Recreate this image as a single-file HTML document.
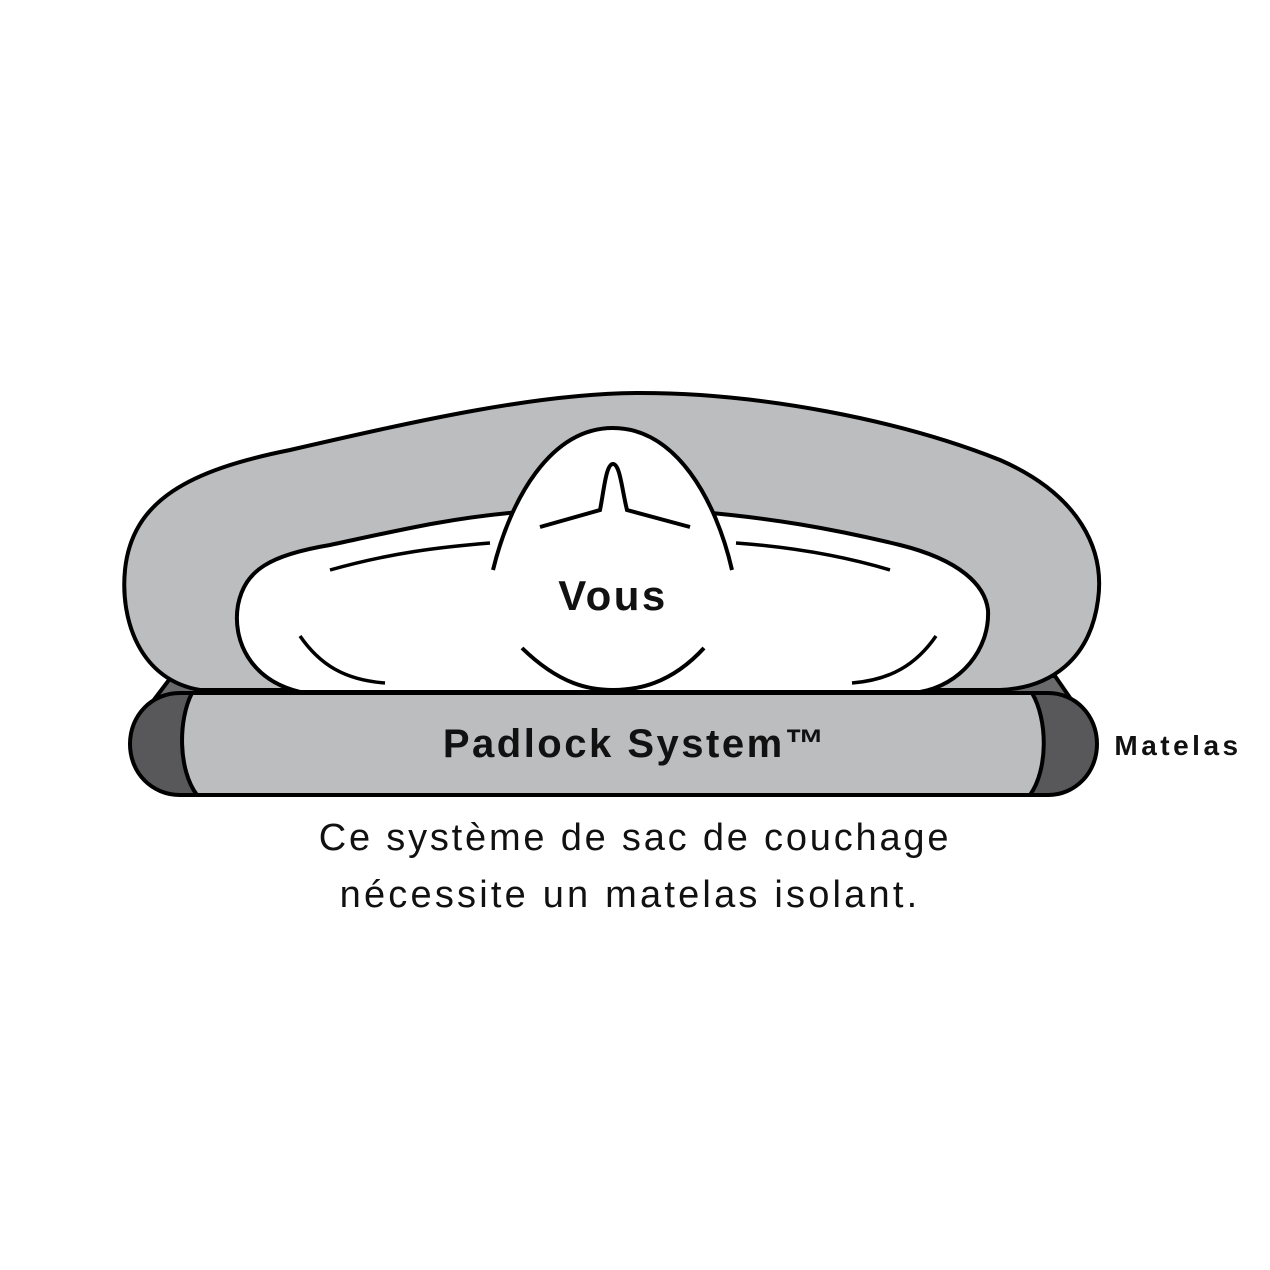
<!DOCTYPE html>
<html><head><style>
html,body{margin:0;padding:0;background:#fff;width:1270px;height:1270px;overflow:hidden}
svg{display:block}
</style></head><body>
<svg width="1270" height="1270" viewBox="0 0 1270 1270" xmlns="http://www.w3.org/2000/svg">
<path d="M172 676 L1055 676 L1075 705 L150 705 Z" fill="#6a6a6c" stroke="#000" stroke-width="4" stroke-linejoin="round"/>
<path d="M200 690 C140 680 120 620 125 570 C132 500 190 470 290 450 C420 420 540 393 640 393 C760 393 900 420 1000 460 C1080 495 1105 550 1098 600 C1090 660 1050 688 1000 690 Z" fill="#bcbdbf" stroke="#000" stroke-width="4"/>
<path d="M300 692 C250 680 232 640 238 605 C245 570 270 555 330 545 C400 530 450 518 520 512 L700 512 C770 518 830 528 900 545 C960 560 985 585 988 610 C990 650 960 685 920 692 Z" fill="#fff" stroke="#000" stroke-width="4"/>
<path d="M493 570 C510 500 550 428 613 428 C676 428 716 500 732 570 L732 686 L493 686 Z" fill="#fff"/>
<path d="M493 570 C510 500 550 428 613 428 C676 428 716 500 732 570" fill="none" stroke="#000" stroke-width="4"/>
<path d="M540 527 L600 510 C604 490 606 464 613 464 C620 464 622 490 627 510 L690 527" fill="none" stroke="#000" stroke-width="4"/>
<path d="M522 648 C560 685 590 690 613 690 C636 690 670 685 704 648" fill="none" stroke="#000" stroke-width="4"/>
<path d="M330 570 C390 553 440 547 490 543" fill="none" stroke="#000" stroke-width="3.5"/>
<path d="M736 543 C790 547 840 555 890 570" fill="none" stroke="#000" stroke-width="3.5"/>
<path d="M300 636 C320 665 345 680 385 683" fill="none" stroke="#000" stroke-width="3.5"/>
<path d="M936 636 C916 665 890 680 852 683" fill="none" stroke="#000" stroke-width="3.5"/>
<path d="M180 693 L1048 693 C1075 693 1097 715 1097 744 C1097 773 1075 795 1048 795 L180 795 C152 795 130 773 130 744 C130 715 152 693 180 693 Z" fill="#58585a" stroke="#000" stroke-width="4"/>
<path d="M192 693 C178 720 178 770 197 795 L1030 795 C1048 770 1048 720 1032 693 Z" fill="#bcbdbf" stroke="#000" stroke-width="4"/>
<path d="M180 693 L1048 693 M180 795 L1048 795" stroke="#000" stroke-width="4"/>
<g font-family="Liberation Sans, sans-serif" fill="#111" text-anchor="middle">
<text x="613" y="610" font-size="42" font-weight="bold" letter-spacing="2.5">Vous</text>
<text x="635" y="757" font-size="40" font-weight="bold" letter-spacing="2.5">Padlock System™</text>
<text x="1178" y="755" font-size="28" font-weight="bold" letter-spacing="3.5">Matelas</text>
<text x="635" y="850" font-size="38" letter-spacing="2.8">Ce système de sac de couchage</text>
<text x="630" y="907" font-size="38" letter-spacing="3.2">nécessite un matelas isolant.</text>
</g>
</svg>
</body></html>
